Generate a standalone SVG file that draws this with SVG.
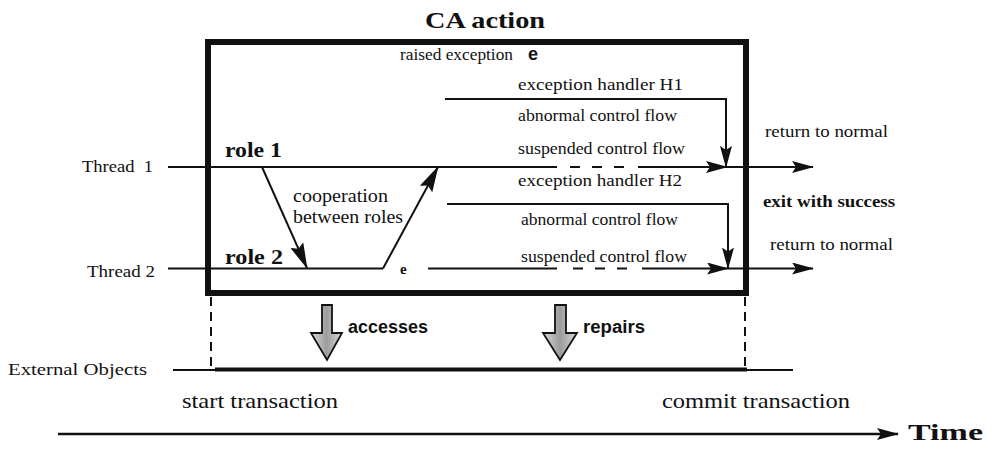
<svg xmlns="http://www.w3.org/2000/svg" width="987" height="450" viewBox="0 0 987 450">
<style>
.t{font-family:"Liberation Serif","Times New Roman",serif;fill:#111}
.b{font-weight:bold}
.s{font-family:"Liberation Sans",Arial,sans-serif;font-weight:bold;fill:#111}
.ln{fill:none;stroke:#111;stroke-width:2}
.dash{fill:none;stroke:#111;stroke-width:2;stroke-dasharray:10,12}
.vdash{fill:none;stroke:#111;stroke-width:2;stroke-dasharray:9,6}
.blk{fill:url(#g);stroke:#111;stroke-width:1.8;stroke-linejoin:miter}
</style>
<defs>
<marker id="ah" markerUnits="userSpaceOnUse" markerWidth="22" markerHeight="12" refX="21" refY="6" orient="auto">
<path d="M0,0 L22,6 L0,12 L4,6 z" fill="#111"/>
</marker>
<marker id="ahd" markerUnits="userSpaceOnUse" markerWidth="26" markerHeight="14" refX="25" refY="7" orient="auto">
<path d="M0,0 L26,7 L0,14 L4,7 z" fill="#111"/>
</marker>
<linearGradient id="g" x1="0" y1="0" x2="1" y2="0">
<stop offset="0" stop-color="#d8d8d8"/>
<stop offset="0.5" stop-color="#9c9c9c"/>
<stop offset="1" stop-color="#d8d8d8"/>
</linearGradient>
</defs>
<rect width="987" height="450" fill="#fff"/>

<g id="ca-action">
<rect x="208" y="42" width="538" height="251" fill="none" stroke="#111" stroke-width="6"/>
<text class="t b" x="425" y="28" font-size="24" textLength="120" lengthAdjust="spacingAndGlyphs">CA action</text>
</g>

<g id="labels">
<text class="t" x="400" y="60" font-size="16" textLength="113" lengthAdjust="spacingAndGlyphs">raised exception</text>
<text class="s" x="528" y="60" font-size="18">e</text>
<text class="t" x="518" y="90" font-size="17" textLength="165" lengthAdjust="spacingAndGlyphs">exception handler H1</text>
<text class="t" x="518" y="121" font-size="16" textLength="159" lengthAdjust="spacingAndGlyphs">abnormal control flow</text>
<text class="t" x="518" y="154" font-size="16" textLength="167" lengthAdjust="spacingAndGlyphs">suspended control flow</text>
<text class="t" x="518" y="186" font-size="17" textLength="164" lengthAdjust="spacingAndGlyphs">exception handler H2</text>
<text class="t" x="521" y="225" font-size="16" textLength="157" lengthAdjust="spacingAndGlyphs">abnormal control flow</text>
<text class="t" x="521" y="262" font-size="16" textLength="166" lengthAdjust="spacingAndGlyphs">suspended control flow</text>
<text class="t" x="765" y="137" font-size="16" textLength="123" lengthAdjust="spacingAndGlyphs">return to normal</text>
<text class="t b" x="763" y="207" font-size="16" textLength="132" lengthAdjust="spacingAndGlyphs">exit with success</text>
<text class="t" x="770" y="250" font-size="16" textLength="123" lengthAdjust="spacingAndGlyphs">return to normal</text>
<text class="t" x="82" y="172" font-size="16" textLength="71" lengthAdjust="spacingAndGlyphs" xml:space="preserve">Thread  1</text>
<text class="t" x="87" y="277" font-size="16" textLength="68" lengthAdjust="spacingAndGlyphs">Thread 2</text>
<text class="t b" x="225" y="157" font-size="21" textLength="57" lengthAdjust="spacingAndGlyphs">role 1</text>
<text class="t b" x="225" y="264" font-size="21" textLength="58" lengthAdjust="spacingAndGlyphs">role 2</text>
<text class="t" x="293" y="202" font-size="19" textLength="95" lengthAdjust="spacingAndGlyphs">cooperation</text>
<text class="t" x="293" y="223" font-size="19" textLength="110" lengthAdjust="spacingAndGlyphs">between roles</text>
<text class="t b" x="400" y="274" font-size="15">e</text>
<text class="t" x="8" y="375" font-size="17" textLength="139" lengthAdjust="spacingAndGlyphs">External Objects</text>
<text class="t" x="182" y="408" font-size="21" textLength="156" lengthAdjust="spacingAndGlyphs">start transaction</text>
<text class="t" x="662" y="408" font-size="21" textLength="188" lengthAdjust="spacingAndGlyphs">commit transaction</text>
<text class="t b" x="908" y="440" font-size="24" textLength="75" lengthAdjust="spacingAndGlyphs">Time</text>
<text class="s" x="348" y="333" font-size="18" textLength="80" lengthAdjust="spacingAndGlyphs">accesses</text>
<text class="s" x="583" y="333" font-size="18" textLength="62" lengthAdjust="spacingAndGlyphs">repairs</text>
</g>

<g id="connectors">
<!-- Thread 1 -->
<path class="ln" d="M168,167 H557"/>
<path class="dash" d="M570,167 H633"/>
<path class="ln" d="M638,167 H727" marker-end="url(#ah)"/>
<path class="ln" d="M727,167 H813" marker-end="url(#ah)"/>
<!-- Thread 2 -->
<path class="ln" d="M168,268.5 H383"/>
<path class="ln" d="M428,268.5 H557"/>
<path class="dash" d="M573,268.5 H633"/>
<path class="ln" d="M642,268.5 H728" marker-end="url(#ah)"/>
<path class="ln" d="M728,268.5 H813" marker-end="url(#ah)"/>
<!-- handlers -->
<path class="ln" d="M445,99 H726 V167" marker-end="url(#ah)"/>
<path class="ln" d="M447,204 H728 V268.5" marker-end="url(#ah)"/>
<!-- cooperation -->
<path class="ln" d="M262,167 L307,268" marker-end="url(#ahd)"/>
<path class="ln" d="M383,268.5 L438,167" marker-end="url(#ahd)"/>
<!-- transaction bounds -->
<path class="vdash" d="M211,297 V368"/>
<path class="vdash" d="M745,297 V368"/>
<!-- external objects -->
<path class="ln" d="M173,370 H215"/>
<path fill="none" stroke="#111" stroke-width="4" d="M215,369.5 H747"/>
<path class="ln" d="M747,370 H793"/>
<!-- time -->
<path fill="none" stroke="#111" stroke-width="2.5" d="M58,434 H898" marker-end="url(#ah)"/>
<!-- block arrows -->
<polygon class="blk" points="322,305 332,305 332,333 342,333 327,360 311,333 322,333"/>
<polygon class="blk" points="555,305 566,305 566,333 577,333 560,360 543,333 555,333"/>
</g>
</svg>
